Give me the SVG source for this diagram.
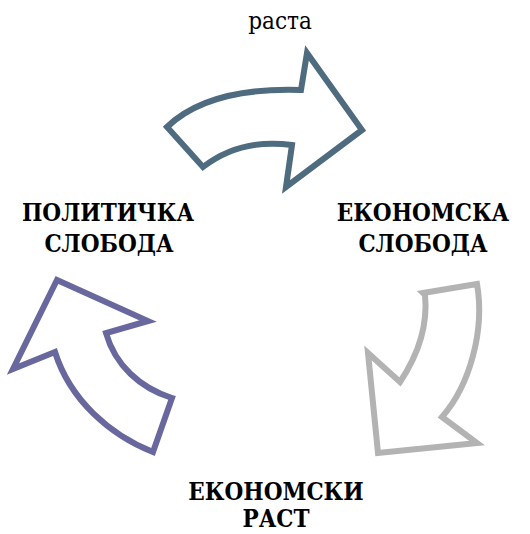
<svg xmlns="http://www.w3.org/2000/svg" width="530" height="534" viewBox="0 0 530 534">
<style>
.arr{fill:#fff;stroke-width:6;stroke-linejoin:miter}
.lbl{font-family:"DejaVu Serif Condensed","DejaVu Serif",serif;font-weight:bold;font-size:24px;fill:#000;text-anchor:middle}
.top{font-family:"DejaVu Serif Condensed","DejaVu Serif",serif;font-size:24px;fill:#000;text-anchor:middle}
</style>
<rect width="530" height="534" fill="#fff"/>
<g id="connectors">
<path id="arrow-top" class="arr" stroke="#4E6B7F" d="M167,127 C195,100 240,88 301,90 L307,53 L362,130 L286,187 L292,145 C255,140 225,150 203,167 Z"/>
<path id="arrow-right" class="arr" stroke="#B3B3B3" d="M423,293 L477,284 C485,330 470,385 442,417 L477,443 L378,453 L368,353 L400,382 C418,355 428,325 425,295 Z"/>
<path id="arrow-left" class="arr" stroke="#68689E" d="M57,280 L148,321 L106,333 C115,365 140,388 172,398 L153,452 C110,435 70,400 55,352 L13,369 Z"/>
</g>
<g id="label-top"><text class="top" x="280" y="29">раста</text></g>
<g id="node-political"><text class="lbl" x="108" y="221">ПОЛИТИЧКА</text><text class="lbl" x="109" y="252">СЛОБОДА</text></g>
<g id="node-economic-freedom"><text class="lbl" x="423" y="221">ЕКОНОМСКА</text><text class="lbl" x="423" y="252">СЛОБОДА</text></g>
<g id="node-growth"><text class="lbl" x="276" y="500">ЕКОНОМСКИ</text><text class="lbl" x="276" y="527">РАСТ</text></g>
</svg>
